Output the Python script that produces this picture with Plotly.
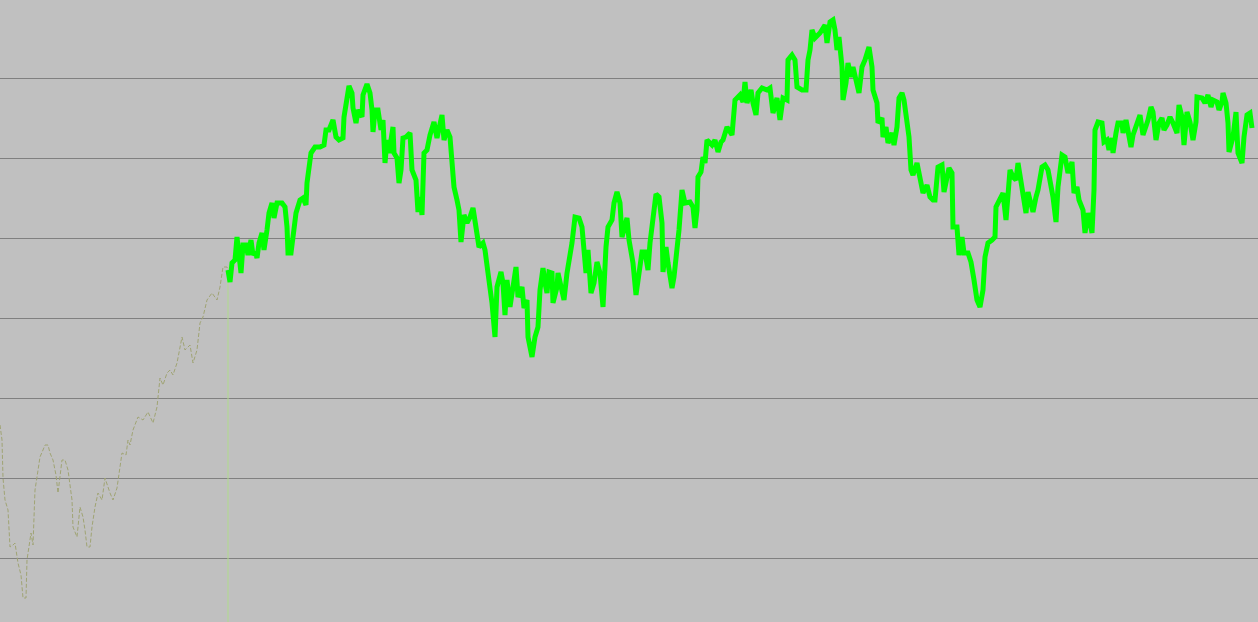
import plotly.graph_objects as go

# History (thin dashed) series
hist_day = [0, 2, 3, 5, 8, 10, 13, 15, 18, 21, 23, 26, 27, 29, 31, 33, 35, 37, 40, 43,
            45, 48, 50, 53, 56, 58, 60, 62, 65, 68, 70, 72, 73, 77, 80, 83, 85, 87, 90, 92,
            95, 98, 102, 105, 110, 113, 117, 120, 122, 126, 128, 130, 133, 138, 143, 148, 153, 157, 160, 163,
            167, 170, 173, 177, 182, 185, 190, 193, 197, 200, 203, 207, 212, 217, 220, 223, 227, 228]
hist_val = [213, 198, 160, 138, 128, 91, 93, 95, 75, 63, 40, 40, 78, 93, 105, 93, 148, 161, 181, 188,
            193, 193, 185, 178, 163, 145, 160, 178, 178, 168, 153, 138, 111, 101, 131, 121, 108, 91, 91, 111,
            131, 145, 138, 160, 145, 138, 150, 171, 185, 183, 198, 193, 208, 221, 218, 226, 215, 231, 260, 253,
            265, 268, 263, 275, 301, 288, 293, 275, 288, 315, 321, 338, 345, 338, 351, 371, 371, 368]

# Main (thick green) series
main_day = [228, 230, 232, 235, 237, 239, 241, 243, 246, 248, 251, 253, 255, 257, 259, 262, 264, 267, 269, 272,
            274, 277, 282, 285, 287, 288, 291, 293, 296, 300, 303, 306, 307, 311, 315, 320, 324, 326, 329, 333,
            336, 339, 343, 344, 347, 349, 352, 353, 356, 358, 362, 363, 367, 370, 372, 373, 375, 378, 381, 383,
            385, 387, 389, 393, 394, 397, 399, 401, 403, 406, 410, 412, 416, 418, 420, 422, 424, 427, 430, 434,
            437, 442, 444, 447, 450, 452, 454, 457, 459, 461, 464, 467, 470, 473, 476, 479, 483, 485, 488, 492,
            495, 497, 501, 503, 505, 507, 510, 513, 516, 518, 522, 524, 527, 528, 532, 535, 538, 540, 543, 545,
            547, 549, 552, 553, 557, 558, 562, 564, 567, 570, 572, 575, 579, 582, 584, 586, 588, 591, 594, 597,
            600, 603, 606, 608, 612, 614, 617, 620, 622, 624, 627, 629, 633, 636, 638, 642, 645, 648, 650, 653,
            656, 659, 662, 663, 666, 668, 672, 674, 677, 679, 682, 685, 690, 693, 695, 697, 698, 701, 703, 705,
            707, 712, 715, 718, 721, 723, 727, 732, 735, 740, 743, 745, 747, 751, 753, 756, 758, 762, 767, 770,
            773, 777, 780, 783, 787, 788, 792, 795, 797, 802, 806, 808, 810, 812, 815, 820, 825, 827, 830, 833,
            835, 837, 839, 842, 843, 846, 848, 851, 853, 856, 859, 862, 865, 869, 872, 873, 877, 878, 882, 883,
            886, 888, 892, 894, 897, 899, 902, 904, 907, 909, 911, 913, 917, 920, 923, 927, 930, 933, 935, 938,
            942, 944, 947, 949, 952, 953, 957, 959, 962, 964, 968, 971, 974, 977, 980, 983, 985, 988, 992, 995,
            996, 1000, 1003, 1006, 1008, 1010, 1013, 1016, 1018, 1021, 1023, 1026, 1028, 1031, 1033, 1036, 1038, 1042, 1045, 1048,
            1051, 1053, 1056, 1058, 1062, 1065, 1068, 1072, 1074, 1077, 1079, 1083, 1085, 1088, 1092, 1094, 1095, 1098, 1102, 1104,
            1107, 1109, 1112, 1113, 1116, 1118, 1122, 1123, 1126, 1128, 1131, 1133, 1137, 1140, 1143, 1146, 1148, 1151, 1153, 1156,
            1159, 1162, 1164, 1167, 1170, 1173, 1177, 1179, 1182, 1184, 1187, 1190, 1193, 1196, 1197, 1202, 1205, 1208, 1211, 1213,
            1217, 1219, 1222, 1223, 1226, 1228, 1229, 1233, 1236, 1238, 1242, 1244, 1247, 1250, 1252]
main_val = [368, 356, 375, 378, 401, 381, 365, 393, 393, 383, 398, 383, 386, 380, 395, 405, 388, 408, 425, 435,
            420, 435, 435, 431, 411, 385, 385, 401, 425, 438, 440, 433, 455, 485, 491, 491, 493, 508, 508, 518,
            501, 498, 500, 521, 541, 552, 545, 530, 515, 528, 521, 543, 554, 545, 528, 506, 528, 528, 508, 518,
            475, 498, 485, 511, 485, 480, 455, 468, 500, 501, 505, 468, 458, 426, 441, 423, 485, 488, 503, 516,
            500, 523, 498, 508, 501, 478, 451, 438, 428, 396, 423, 415, 421, 430, 408, 391, 395, 388, 365, 335,
            301, 351, 366, 355, 323, 358, 331, 348, 371, 341, 351, 330, 338, 301, 281, 301, 311, 348, 370, 355,
            345, 366, 365, 335, 351, 365, 348, 338, 365, 381, 395, 421, 420, 411, 381, 365, 388, 345, 355, 376,
            365, 331, 391, 411, 418, 435, 446, 435, 401, 408, 420, 398, 375, 343, 361, 386, 386, 368, 395, 425,
            444, 441, 415, 366, 391, 375, 350, 361, 388, 408, 448, 435, 436, 431, 410, 428, 461, 466, 481, 475,
            498, 493, 498, 486, 496, 498, 511, 503, 538, 543, 536, 556, 535, 548, 535, 523, 545, 550, 548, 550,
            525, 540, 518, 540, 538, 578, 583, 578, 551, 548, 548, 578, 588, 608, 600, 605, 613, 595, 616, 618,
            608, 588, 601, 571, 538, 555, 575, 561, 571, 558, 545, 571, 578, 591, 571, 548, 535, 515, 520, 501,
            511, 495, 505, 493, 511, 540, 545, 538, 515, 501, 468, 463, 475, 458, 445, 453, 441, 438, 438, 471,
            473, 446, 458, 470, 465, 411, 411, 383, 401, 385, 385, 376, 358, 338, 331, 348, 381, 395, 398, 401,
            431, 438, 445, 418, 451, 468, 461, 458, 475, 458, 448, 425, 446, 435, 426, 441, 448, 471, 473, 468,
            451, 441, 416, 451, 483, 481, 465, 476, 445, 451, 438, 428, 405, 425, 405, 448, 508, 516, 515, 496,
            498, 488, 500, 485, 505, 515, 515, 505, 518, 508, 491, 503, 513, 523, 503, 511, 518, 531, 526, 498,
            515, 520, 508, 513, 521, 515, 505, 533, 521, 493, 526, 516, 498, 516, 541, 540, 535, 543, 531, 538,
            536, 528, 536, 545, 535, 515, 486, 501, 526, 485, 475, 501, 523, 525, 510]

Y_MIN, Y_MAX = 16, 638
X_MIN, X_MAX = 0, 1258
GRID_STEP = 80

fig = go.Figure()

# Thin dashed history line
fig.add_trace(go.Scatter(x=hist_day, y=hist_val, mode="lines",
                         line=dict(color="#a0a474", width=1, dash="4px,2px"),
                         hoverinfo="skip"))

# Vertical split marker at the start of main series
split_day = main_day[0]
fig.add_trace(go.Scatter(x=[split_day, split_day], y=[main_val[0] - 12, Y_MIN], mode="lines",
                         line=dict(color="#b0dc8c", width=1), hoverinfo="skip"))

# Thick green main line
fig.add_trace(go.Scatter(x=main_day, y=main_val, mode="lines",
                         line=dict(color="#00ff00", width=5),
                         hoverinfo="skip"))

fig.update_layout(
    width=1258, height=622,
    margin=dict(l=0, r=0, t=0, b=0),
    paper_bgcolor="#c0c0c0", plot_bgcolor="#c0c0c0",
    showlegend=False,
    xaxis=dict(range=[X_MIN, X_MAX], showgrid=False, zeroline=False,
               showticklabels=False, showline=False, ticks=""),
    yaxis=dict(range=[Y_MIN, Y_MAX], showgrid=True, gridcolor="#808080", gridwidth=1,
               tick0=0, dtick=GRID_STEP, zeroline=False,
               showticklabels=False, showline=False, ticks=""),
)

fig.write_html("out.html", config={"displayModeBar": False},
               post_script="document.body.style.margin='0';document.body.style.background='#c0c0c0';")
